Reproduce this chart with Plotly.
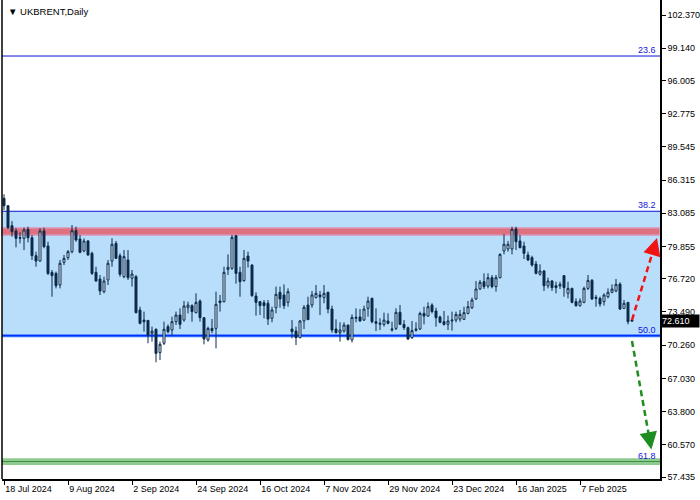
import plotly.graph_objects as go

# ---------------- data ----------------
tick_dates = ["18 Jul 2024", "9 Aug 2024", "2 Sep 2024", "24 Sep 2024", "16 Oct 2024",
              "7 Nov 2024", "29 Nov 2024", "23 Dec 2024", "16 Jan 2025", "7 Feb 2025"]
tick_bars = [0, 16, 32, 48, 64, 80, 96, 112, 128, 144]

opens = [84.54, 83.82, 81.88, 81.36, 80.65, 80.65, 81.52, 80.71, 78.96, 78.44,
         81.36, 79.90, 77.34, 77.24, 76.11, 78.31, 78.77, 79.35, 81.39, 80.58,
         79.42, 80.39, 79.19, 77.34, 76.69, 75.46, 76.60, 78.44, 80.16, 78.96,
         76.92, 78.54, 76.76, 76.92, 73.68, 72.70, 72.67, 71.41, 71.80, 69.53,
         70.44, 72.06, 71.73, 72.54, 73.19, 72.70, 73.90, 74.10, 73.42, 74.55,
         72.93, 70.76, 71.89, 71.89, 74.55, 74.49, 77.63, 77.73, 80.91, 77.34,
         76.53, 78.93, 78.05, 75.04, 74.49, 74.39, 74.33, 72.87, 73.90, 75.40,
         75.14, 74.42, 71.83, 71.63, 70.99, 72.61, 74.16, 74.16, 74.88, 75.14,
         74.88, 75.40, 73.77, 71.83, 71.47, 71.63, 72.22, 70.76, 72.87, 73.00,
         72.70, 73.84, 74.81, 72.54, 72.28, 72.28, 72.61, 71.73, 71.89, 73.45,
         72.28, 71.96, 70.99, 71.70, 71.83, 73.35, 73.09, 74.16, 73.58, 73.00,
         72.54, 72.28, 72.61, 72.70, 72.80, 72.77, 73.35, 73.90, 74.75, 75.72,
         76.43, 76.01, 76.82, 75.95, 76.82, 79.42, 79.61, 79.61, 81.56, 80.39,
         79.90, 79.03, 78.77, 78.15, 77.15, 77.47, 76.04, 76.50, 76.04, 76.01,
         77.02, 75.30, 75.78, 74.49, 74.10, 74.42, 75.78, 76.56, 74.91, 74.81,
         74.49, 74.97, 75.40, 75.53, 76.20, 73.84, 74.42, 72.70]
highs = [84.93, 83.89, 82.33, 81.62, 81.23, 81.69, 81.78, 80.97, 79.35, 81.62,
         81.69, 80.32, 77.57, 77.41, 78.54, 79.03, 79.51, 81.94, 81.78, 80.97,
         80.65, 80.49, 79.35, 77.89, 77.08, 76.92, 78.54, 80.65, 80.39, 79.19,
         79.51, 79.51, 77.57, 77.08, 74.00, 73.52, 72.70, 72.06, 71.89, 70.60,
         72.54, 72.28, 73.03, 73.52, 73.84, 74.55, 74.49, 74.23, 75.30, 74.71,
         72.93, 72.06, 72.80, 75.46, 75.14, 77.89, 79.09, 80.97, 80.97, 77.89,
         79.51, 79.35, 78.12, 75.40, 74.55, 74.65, 74.65, 74.00, 75.95, 75.95,
         76.17, 75.78, 72.70, 72.06, 72.70, 74.16, 74.97, 75.53, 76.11, 75.53,
         76.11, 75.46, 74.10, 72.77, 72.48, 72.48, 72.22, 73.25, 73.84, 73.77,
         74.10, 74.97, 74.88, 73.84, 72.87, 73.42, 73.35, 72.54, 73.84, 74.16,
         72.70, 72.06, 72.61, 72.48, 73.52, 74.00, 74.42, 74.33, 73.90, 73.13,
         73.58, 73.13, 73.52, 73.52, 73.68, 74.00, 74.55, 74.88, 76.50, 76.60,
         77.24, 77.24, 77.08, 77.08, 79.19, 81.04, 80.39, 81.78, 81.78, 80.97,
         80.32, 79.35, 78.96, 78.44, 78.12, 77.57, 76.82, 76.60, 76.43, 76.43,
         77.08, 76.43, 75.85, 74.81, 74.81, 75.95, 77.08, 76.69, 75.14, 74.97,
         75.30, 75.78, 76.17, 76.69, 76.37, 74.65, 74.42, 72.77]
lows = [83.40, 81.56, 80.81, 79.77, 80.16, 79.51, 80.26, 78.54, 77.89, 78.38,
        79.68, 77.08, 74.97, 75.78, 75.78, 78.05, 78.54, 79.19, 80.32, 79.19,
        79.29, 78.96, 77.08, 76.43, 75.14, 75.30, 76.11, 77.89, 78.64, 76.92,
        76.76, 76.60, 75.95, 73.35, 72.28, 71.57, 70.44, 70.60, 68.59, 68.81,
        70.27, 71.41, 71.25, 72.22, 71.83, 72.54, 73.35, 72.54, 73.35, 72.54,
        70.34, 70.60, 71.41, 69.95, 73.52, 74.42, 77.08, 77.57, 76.24, 74.97,
        76.43, 77.80, 74.97, 73.13, 73.19, 72.87, 72.22, 72.48, 73.35, 73.90,
        73.77, 74.00, 70.92, 70.27, 70.92, 71.83, 72.70, 73.90, 74.81, 73.19,
        74.33, 73.35, 71.47, 71.41, 70.60, 71.47, 70.70, 70.53, 72.48, 72.54,
        72.61, 73.03, 72.38, 71.63, 71.73, 72.06, 72.28, 71.57, 71.73, 72.22,
        71.73, 70.76, 70.86, 71.57, 71.73, 72.28, 73.03, 73.35, 72.06, 72.38,
        72.15, 71.73, 71.67, 72.48, 72.54, 72.70, 73.25, 73.77, 74.65, 75.62,
        75.72, 75.78, 75.78, 75.46, 76.76, 79.09, 79.35, 79.09, 79.51, 79.68,
        78.64, 78.44, 77.89, 77.15, 77.02, 75.53, 75.78, 75.53, 75.30, 75.72,
        74.97, 74.81, 74.33, 74.00, 74.00, 74.33, 75.62, 74.65, 74.00, 74.00,
        74.10, 74.81, 75.30, 75.40, 73.68, 73.77, 72.28, 72.54]
closes = [83.82, 81.69, 81.30, 80.65, 80.71, 81.46, 80.71, 78.96, 78.44, 81.36,
          79.84, 77.24, 77.02, 76.04, 78.22, 78.70, 79.35, 81.39, 80.49, 79.29,
          80.39, 79.03, 77.24, 76.50, 75.53, 76.50, 78.22, 80.07, 78.70, 77.15,
          78.87, 76.82, 77.18, 73.42, 72.38, 72.54, 71.25, 71.63, 69.46, 70.34,
          71.80, 71.57, 72.54, 73.19, 72.28, 74.07, 74.16, 73.52, 74.42, 72.93,
          70.86, 71.89, 71.67, 74.23, 74.39, 77.34, 77.83, 80.74, 77.24, 76.43,
          78.70, 78.44, 75.07, 74.42, 74.10, 74.10, 72.80, 73.68, 75.20, 74.75,
          74.10, 75.46, 71.57, 70.99, 72.61, 73.94, 72.74, 75.14, 75.30, 74.97,
          75.30, 73.77, 71.73, 71.47, 71.73, 72.22, 70.82, 72.96, 72.96, 72.61,
          73.77, 74.55, 72.54, 72.38, 72.38, 72.70, 72.38, 71.83, 73.45, 72.28,
          71.96, 70.86, 71.67, 71.83, 73.35, 73.09, 74.00, 73.52, 72.93, 72.48,
          72.28, 72.61, 72.70, 73.25, 73.25, 73.42, 74.00, 74.65, 75.72, 76.37,
          75.95, 76.82, 75.95, 76.82, 79.09, 80.07, 80.07, 81.52, 80.32, 79.74,
          79.19, 78.54, 78.05, 77.24, 77.47, 76.04, 76.50, 75.85, 75.85, 76.17,
          75.85, 75.78, 74.42, 74.10, 74.55, 75.78, 76.56, 74.75, 74.81, 74.26,
          75.14, 75.40, 75.72, 76.17, 73.77, 74.33, 72.54, 72.61]

price_ticks = [102.370, 99.140, 96.005, 92.775, 89.545, 86.315, 83.085, 79.855,
               76.720, 73.490, 70.260, 67.030, 63.800, 60.570, 57.435]

fib_labels = ["23.6", "38.2", "50.0", "61.8"]
fib_prices = [98.38, 83.28, 71.18, 58.94]

resistance_band = [80.94, 81.68]
support_band = [58.60, 59.25]

last_price = 72.61

forecast_start_bar = [157.0, 157.0]
forecast_start_price = [72.70, 70.66]
forecast_end_bar = [163.25, 161.85]
forecast_end_price = [80.68, 60.10]

# ---------------- style ----------------
NAVY = "#0b2a4a"
BLUE_LINE = "#0a14d4"
FONT = "Liberation Sans"
FILL_BLUE = "#b9defc"

bars = list(range(len(opens)))

fig = go.Figure()
fig.add_trace(go.Candlestick(
    x=bars, open=opens, high=highs, low=lows, close=closes,
    increasing=dict(line=dict(color=NAVY, width=1), fillcolor="white"),
    decreasing=dict(line=dict(color=NAVY, width=1), fillcolor=NAVY),
    whiskerwidth=0, showlegend=False, hoverinfo="skip",
))

shapes = []
# zone between 38.2 and 50.0
shapes.append(dict(type="rect", xref="paper", x0=0, x1=1, yref="y",
                   y0=fib_prices[2], y1=fib_prices[1], fillcolor=FILL_BLUE,
                   line=dict(width=0), layer="below"))
# resistance band
shapes.append(dict(type="rect", xref="paper", x0=0, x1=1, yref="y",
                   y0=resistance_band[0], y1=resistance_band[1],
                   fillcolor="#dd717f", line=dict(color="#d6a6c8", width=1.5),
                   layer="below"))
# support band
shapes.append(dict(type="rect", xref="paper", x0=0, x1=1, yref="y",
                   y0=support_band[0], y1=support_band[1],
                   fillcolor="#8fcb8f", line=dict(width=0), layer="below"))
shapes.append(dict(type="line", xref="paper", x0=0, x1=1, yref="y",
                   y0=fib_prices[3], y1=fib_prices[3],
                   line=dict(color="#3f8f4a", width=1), layer="below"))
# fib lines
for i, p in enumerate(fib_prices[:3]):
    if i == 2:
        shapes.append(dict(type="line", xref="paper", x0=0, x1=1, yref="y", y0=p, y1=p,
                           line=dict(color="#3d7bff", width=3), layer="below"))
        shapes.append(dict(type="line", xref="paper", x0=0, x1=1, yref="y", y0=p, y1=p,
                           line=dict(color="#0030ff", width=1.2), layer="below"))
    else:
        shapes.append(dict(type="line", xref="paper", x0=0, x1=1, yref="y", y0=p, y1=p,
                           line=dict(color=BLUE_LINE, width=1), layer="below"))

# left border
shapes.append(dict(type="line", xref="paper", yref="paper", x0=0, x1=0, y0=0, y1=1,
                   line=dict(color="black", width=1.5)))

annotations = []
arrow_colors = ["#f01414", "#1e8c1e"]
for k in range(2):
    xs, ys = forecast_start_bar[k], forecast_start_price[k]
    xe, ye = forecast_end_bar[k], forecast_end_price[k]
    fx = xs + (xe - xs) * 0.88
    fy = ys + (ye - ys) * 0.88
    shapes.append(dict(type="line", xref="x", yref="y", x0=xs, y0=ys, x1=fx, y1=fy,
                       line=dict(color=arrow_colors[k], width=2.5, dash="6px,4px")))
    tx = xs + (xe - xs) * 0.86
    ty = ys + (ye - ys) * 0.86
    annotations.append(dict(x=xe, y=ye, xref="x", yref="y", ax=tx, ay=ty,
                            axref="x", ayref="y", text="", showarrow=True,
                            arrowhead=2, arrowsize=1.4, arrowwidth=2.5,
                            arrowcolor=arrow_colors[k]))

for lab, p in zip(fib_labels, fib_prices):
    annotations.append(dict(x=1, xref="paper", y=p, yref="y", text=lab,
                            xanchor="right", yanchor="bottom", showarrow=False,
                            xshift=-2, yshift=-1,
                            font=dict(family=FONT, size=9, color="#1414d8")))

annotations.append(dict(x=1, xref="paper", y=last_price, yref="y",
                        text=f"{last_price:.3f}", xanchor="left", yanchor="middle",
                        showarrow=False, bgcolor="black", width=36, align="left",
                        borderpad=1, font=dict(family=FONT, size=9, color="white")))

annotations.append(dict(x=0, xref="paper", y=1, yref="paper",
                        text="\u25bc UKBRENT,Daily", xanchor="left", yanchor="top",
                        xshift=4, yshift=-4, showarrow=False,
                        font=dict(family=FONT, size=9.5, color="black")))

fig.update_layout(
    width=700, height=500,
    margin=dict(l=2, r=40, t=0, b=21),
    paper_bgcolor="white", plot_bgcolor="white",
    shapes=shapes, annotations=annotations,
    font=dict(family=FONT, size=9, color="black"),
    xaxis=dict(range=[-0.5, 164], rangeslider=dict(visible=False),
               tickvals=tick_bars, ticktext=tick_dates,
               ticklabelposition="outside right",
               showgrid=False, zeroline=False, showline=True,
               linecolor="black", linewidth=1.5, ticks="outside", ticklen=4,
               tickcolor="black", tickfont=dict(family=FONT, size=9, color="black")),
    yaxis=dict(range=[57.24, 103.83], side="right", tickvals=price_ticks,
               ticktext=[f"{v:.3f}" for v in price_ticks],
               showgrid=False, zeroline=False, showline=True,
               linecolor="black", linewidth=1.5, ticks="outside", ticklen=4,
               tickcolor="black", tickfont=dict(family=FONT, size=9, color="black")),
)

fig.write_html("out.html", config={"displayModeBar": False},
               post_script="document.body.style.margin='0px';document.body.style.overflow='hidden';")
